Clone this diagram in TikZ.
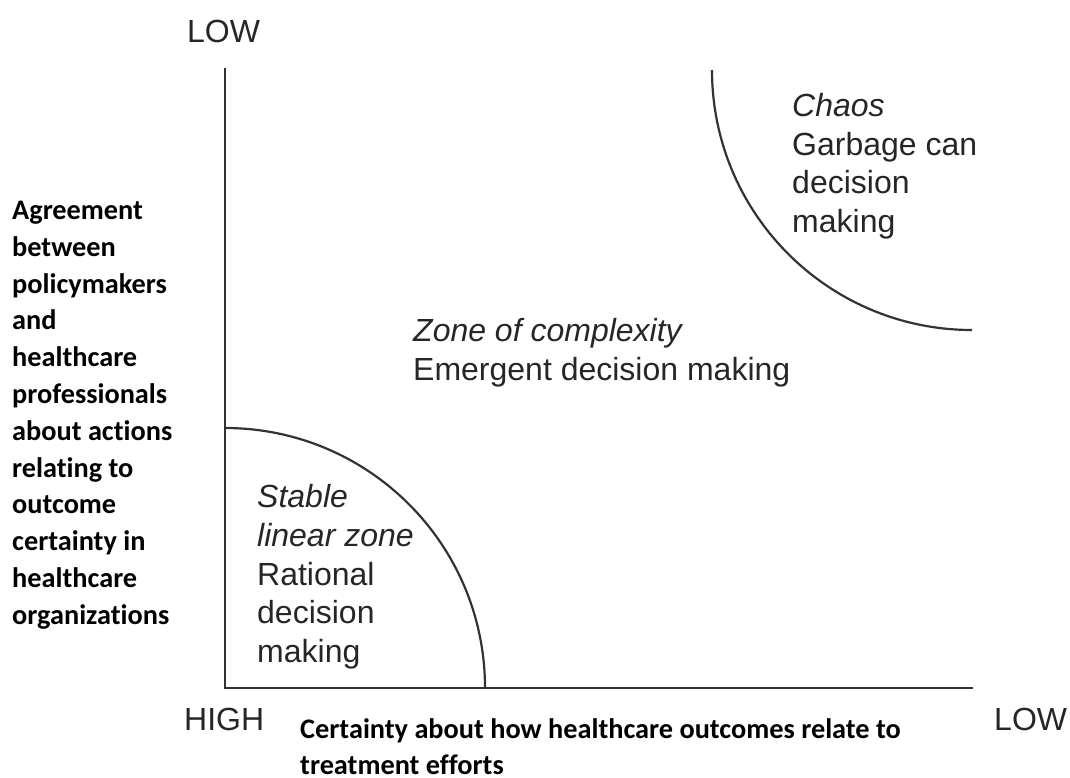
\documentclass[tikz,border=0pt]{standalone}
\usepackage{fontspec}
\setmainfont{Liberation Sans}
\newfontfamily\labelfont{Carlito}[Ligatures=NoCommon]
\begin{document}
\begin{tikzpicture}[x=1pt,y=-1pt,
  axis/.style={line width=2.2pt,draw=black!80},
  zone/.style={line width=2.2pt,draw=black!80},
  zonetext/.style={inner sep=0pt,anchor=north west,align=left,text=black!85,
    font=\fontsize{32}{38.8}\selectfont},
  endlabel/.style={inner sep=0pt,anchor=base west,text=black!85,
    font=\fontsize{32}{38}\selectfont},
  axislabel/.style={inner sep=0pt,anchor=north west,align=left,text=black,
    font=\labelfont\bfseries\fontsize{28.3}{36.8}\selectfont}]
\useasboundingbox (0,0) rectangle (1070,777);
% axes
\coordinate (top) at (225,68);
\coordinate (origin) at (225,688);
\coordinate (right) at (973,688);
\draw[axis] (top) -- (origin) -- (right);
% stable zone boundary (quarter circle round the origin)
\draw[zone] (225,428) arc[start angle=-90,end angle=0,radius=260];
% chaos boundary
\draw[zone] (712,70) arc[start angle=180,end angle=90,radius=260];
% axis end labels
\node[endlabel] (ylow) at (187,42) {LOW};
\node[endlabel] (xhigh) at (184,730) {HIGH};
\node[endlabel] (xlow) at (994,730) {LOW};
% zone texts
\node[zonetext] (stable) at (257,484) {\textit{Stable}\\\textit{linear zone}\\Rational\\decision\\making};
\node[zonetext] (complex) at (413,318) {\textit{Zone of complexity}\\Emergent decision making};
\node[zonetext] (chaos) at (792,93) {\textit{Chaos}\\Garbage can\\decision\\making};
% axis titles
\node[axislabel] (ytitle) at (12,201) {Agreement\\between\\policymakers\\and\\healthcare\\professionals\\about actions\\relating to\\outcome\\certainty in\\healthcare\\organizations};
\node[axislabel] (xtitle) at (300,718) {Certainty about how healthcare outcomes relate to\\treatment efforts};
\end{tikzpicture}
\end{document}
